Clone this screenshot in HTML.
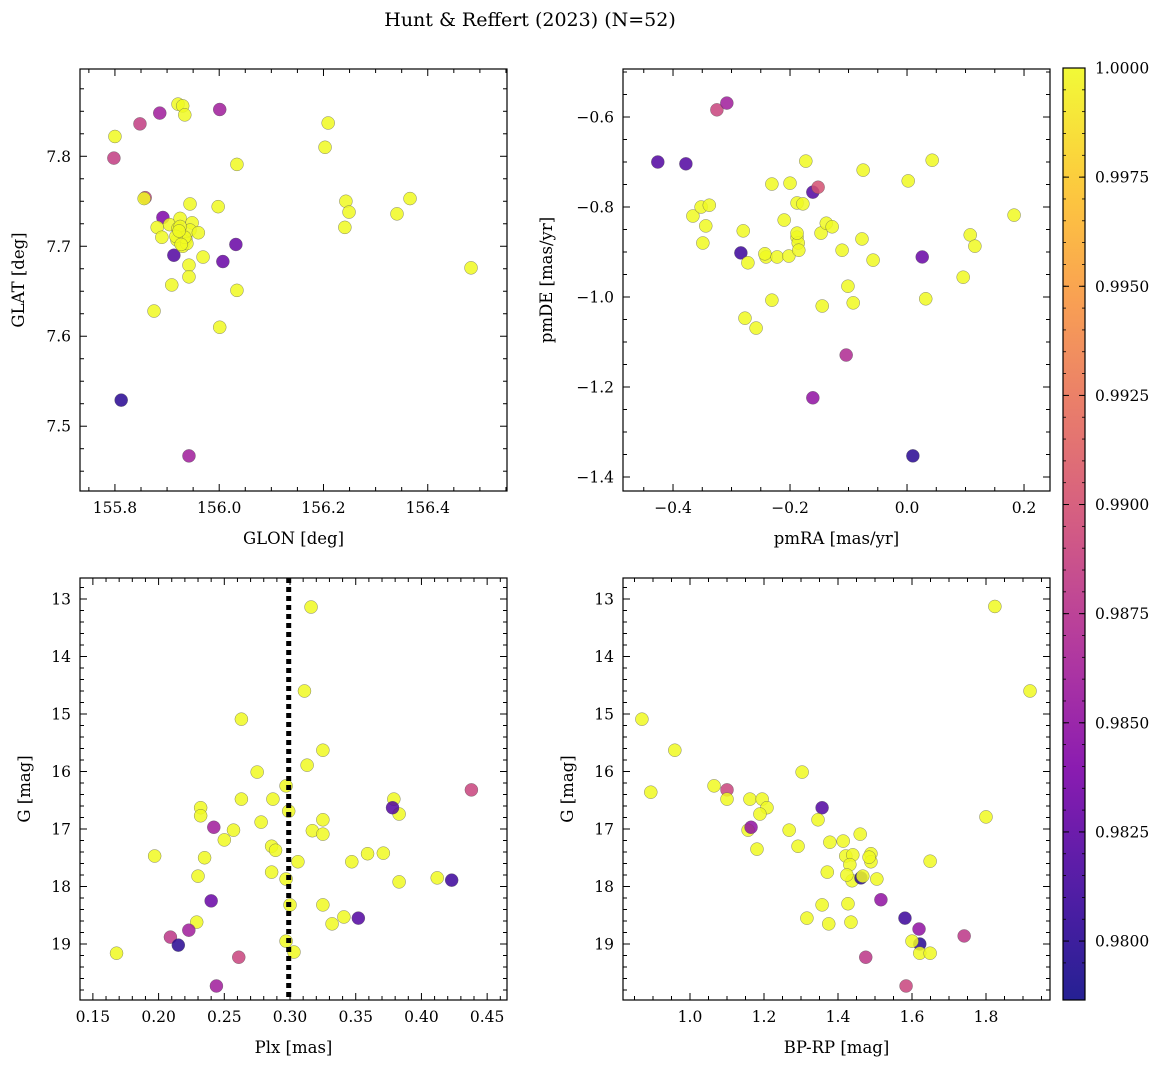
<!DOCTYPE html>
<html><head><meta charset="utf-8"><style>
html,body{margin:0;padding:0;background:#fff;}
svg{display:block;font-family:"DejaVu Serif","Liberation Serif",serif;}
</style></head><body>
<svg id="fig" width="1173" height="1068" viewBox="0 0 1173 1068" xmlns="http://www.w3.org/2000/svg">
<text x="530" y="26" text-anchor="middle" font-size="19">Hunt &amp; Reffert (2023) (N=52)</text>
</svg>
<script>
// Panel 1: GLON vs GLAT
const p1Glon=[155.800,155.798,155.848,155.886,155.921,155.930,155.934,156.001,155.858,155.856,155.892,155.881,155.890,155.905,155.913,155.909,155.875,155.944,155.925,155.921,155.929,155.919,155.936,155.930,155.948,155.944,155.938,155.942,155.942,155.925,155.934,155.917,155.927,155.923,155.969,155.998,156.007,156.034,156.032,156.034,156.001,156.203,156.209,156.243,156.249,156.241,156.341,156.366,156.483,155.812,155.942,155.960];
const p1Glat=[7.822,7.798,7.836,7.848,7.858,7.856,7.846,7.852,7.754,7.753,7.732,7.721,7.710,7.724,7.690,7.657,7.628,7.747,7.731,7.720,7.713,7.707,7.708,7.700,7.726,7.718,7.703,7.679,7.666,7.722,7.710,7.711,7.702,7.717,7.688,7.744,7.683,7.791,7.702,7.651,7.610,7.810,7.837,7.750,7.738,7.721,7.736,7.753,7.676,7.529,7.467,7.715];
const p1Prob=[1,0.9885,0.9885,0.986,1,1,1,0.986,0.989,1,0.984,1,1,1,0.982,1,1,1,1,1,1,1,1,1,1,1,1,1,1,1,1,1,1,1,1,1,0.983,1,0.983,1,1,1,1,1,1,1,1,1,1,0.980,0.986,1];
// Panel 2: pmRA vs pmDE
const p2Pmra=[-0.325,-0.308,-0.426,-0.378,-0.366,-0.352,-0.338,-0.344,-0.349,-0.284,-0.272,-0.280,-0.241,-0.243,-0.222,-0.231,-0.200,-0.202,-0.210,-0.188,-0.178,-0.188,-0.186,-0.185,-0.173,-0.161,-0.152,-0.147,-0.138,-0.128,-0.111,-0.101,-0.092,-0.145,-0.075,-0.077,-0.058,-0.231,-0.277,-0.258,-0.104,-0.161,0.010,0.002,0.043,0.026,0.032,0.096,0.108,0.116,0.183,-0.188];
const p2Pmde=[-0.584,-0.569,-0.700,-0.704,-0.820,-0.800,-0.796,-0.842,-0.880,-0.902,-0.924,-0.853,-0.911,-0.904,-0.911,-0.749,-0.747,-0.909,-0.829,-0.791,-0.793,-0.867,-0.880,-0.896,-0.698,-0.767,-0.756,-0.858,-0.836,-0.844,-0.896,-0.976,-1.013,-1.020,-0.718,-0.871,-0.918,-1.007,-1.047,-1.069,-1.129,-1.224,-1.353,-0.742,-0.696,-0.911,-1.004,-0.956,-0.862,-0.887,-0.818,-0.858];
const p2Prob=[0.989,0.986,0.982,0.982,1,1,1,1,1,0.981,1,1,1,1,1,1,1,1,1,1,1,1,1,1,1,0.982,0.990,1,1,1,1,1,1,1,1,1,1,1,1,1,0.987,0.985,0.980,1,1,0.983,1,1,1,1,1,1];
// Panel 3: Plx vs G
const p3Plx=[0.316,0.311,0.263,0.325,0.275,0.313,0.263,0.287,0.297,0.299,0.232,0.232,0.278,0.257,0.250,0.235,0.197,0.286,0.289,0.286,0.230,0.297,0.300,0.306,0.317,0.325,0.325,0.347,0.359,0.371,0.379,0.383,0.383,0.412,0.378,0.423,0.438,0.240,0.242,0.229,0.223,0.209,0.215,0.168,0.261,0.244,0.297,0.303,0.325,0.332,0.341,0.352];
const p3G=[13.14,14.60,15.09,15.63,16.01,15.89,16.48,16.48,16.25,16.69,16.63,16.77,16.88,17.02,17.19,17.50,17.47,17.30,17.37,17.75,17.82,17.87,18.32,17.57,17.03,16.84,17.09,17.57,17.43,17.42,16.48,16.74,17.92,17.85,16.63,17.89,16.32,18.25,16.97,18.62,18.76,18.88,19.02,19.16,19.23,19.73,18.95,19.14,18.32,18.65,18.53,18.55];
const p3Prob=[1,1,1,1,1,1,1,1,1,1,1,1,1,1,1,1,1,1,1,1,1,1,1,1,1,1,1,1,1,1,1,1,1,1,0.982,0.981,0.989,0.983,0.986,1,0.986,0.988,0.980,1,0.989,0.986,1,1,1,1,1,0.982];
const p3Cut=[0.299];
// Panel 4: BP-RP vs G
const p4Col=[1.824,1.919,0.870,0.959,0.894,1.065,1.100,1.100,1.162,1.195,1.208,1.189,1.157,1.165,1.181,1.303,1.357,1.346,1.268,1.292,1.414,1.460,1.421,1.440,1.489,1.489,1.484,1.371,1.438,1.462,1.505,1.467,1.800,1.649,1.316,1.357,1.427,1.435,1.375,1.516,1.581,1.619,1.621,1.600,1.621,1.649,1.741,1.475,1.584,1.432,1.378,1.424];
const p4G=[13.13,14.60,15.09,15.63,16.36,16.25,16.32,16.48,16.48,16.48,16.63,16.74,17.02,16.97,17.35,16.01,16.63,16.84,17.02,17.30,17.21,17.09,17.47,17.45,17.43,17.57,17.49,17.75,17.90,17.85,17.87,17.82,16.79,17.56,18.55,18.32,18.30,18.62,18.65,18.23,18.55,18.74,19.00,18.95,19.16,19.16,18.86,19.23,19.73,17.62,17.23,17.80];
const p4Prob=[1,1,1,1,1,1,0.989,1,1,1,1,1,1,0.985,1,1,0.982,1,1,1,1,1,1,1,1,1,1,1,1,0.980,1,1,1,1,1,1,1,1,1,0.985,0.981,0.985,0.980,1,1,1,0.988,0.988,0.989,1,1,1];
const cbTicks=["0.9800","0.9825","0.9850","0.9875","0.9900","0.9925","0.9950","0.9975","1.0000"];

const NS="http://www.w3.org/2000/svg";
const svg=document.getElementById('fig');
const VMIN=0.97865,VMAX=1.0;
const stops=[[0,[13,8,135]],[0.125,[65,4,157]],[0.25,[126,3,168]],[0.375,[170,35,149]],[0.5,[204,71,120]],[0.625,[229,107,93]],[0.75,[248,149,64]],[0.875,[253,197,39]],[1,[240,249,33]]];
function plasma(t){t=Math.max(0,Math.min(1,t));for(let i=1;i<stops.length;i++){if(t<=stops[i][0]){const a=stops[i-1],b=stops[i];const f=(t-a[0])/(b[0]-a[0]);const c=a[1].map((v,k)=>Math.round(v+(b[1][k]-v)*f));return `rgb(${c[0]},${c[1]},${c[2]})`;}}return 'rgb(240,249,33)';}
function el(tag,attrs,parent){const e=document.createElementNS(NS,tag);for(const k in attrs)e.setAttribute(k,attrs[k]);(parent||svg).appendChild(e);return e;}
function fmt(v,d){return (v<0?'\u2212':'')+Math.abs(v).toFixed(d);}

function panel(o){
  const g=el('g',{});
  
  
  const sx=v=>o.x0+(v-o.xmin)/(o.xmax-o.xmin)*(o.x1-o.x0);
  const sy=o.invert?(v=>o.y0+(v-o.ymin)/(o.ymax-o.ymin)*(o.y1-o.y0)):(v=>o.y1-(v-o.ymin)/(o.ymax-o.ymin)*(o.y1-o.y0));
  const ymn=Math.min(o.ymin,o.ymax),ymx=Math.max(o.ymin,o.ymax);
  const pts=el('g',{},g);
  
  
  o.xs.forEach((xv,i)=>{
    const c=el('circle',{cx:sx(xv),cy:sy(o.ys[i]),r:6.5,fill:plasma((o.cs[i]-VMIN)/(VMAX-VMIN)),'fill-opacity':0.85,stroke:'#555','stroke-width':0.5,'stroke-opacity':0.7},pts);
    
    
  });
  if(o.vline){o.vline.forEach(v=>{const l=el('line',{x1:sx(v),x2:sx(v),y1:o.y0,y2:o.y1,stroke:'#000','stroke-width':5,'stroke-dasharray':'5,4'},g);
    
    });}
  const fr=el('rect',{x:o.x0,y:o.y0,width:o.x1-o.x0,height:o.y1-o.y0,fill:'none',stroke:'#000','stroke-width':1.2},g);
  
  
  const eps=1e-9;
  for(let v=Math.ceil(o.xmin/o.xminor-eps)*o.xminor;v<=o.xmax+eps;v+=o.xminor){
    const px=sx(v);const isMaj=Math.abs(v/o.xmajor-Math.round(v/o.xmajor))<1e-6;const L=isMaj?7:4;
    el('line',{x1:px,x2:px,y1:o.y1,y2:o.y1-L,stroke:'#000','stroke-width':1},g);
    el('line',{x1:px,x2:px,y1:o.y0,y2:o.y0+L,stroke:'#000','stroke-width':1},g);
    if(isMaj){const t=el('text',{x:px,y:o.y1+22,'text-anchor':'middle','font-size':15.5},g);t.textContent=fmt(Math.round(v/o.xmajor)*o.xmajor,o.xd);
      
      }
  }
  for(let v=Math.ceil(ymn/o.yminor-eps)*o.yminor;v<=ymx+eps;v+=o.yminor){
    const py=sy(v);const isMaj=Math.abs(v/o.ymajor-Math.round(v/o.ymajor))<1e-6;const L=isMaj?7:4;
    el('line',{x1:o.x0,x2:o.x0+L,y1:py,y2:py,stroke:'#000','stroke-width':1},g);
    el('line',{x1:o.x1,x2:o.x1-L,y1:py,y2:py,stroke:'#000','stroke-width':1},g);
    if(isMaj){const t=el('text',{x:o.x0-9,y:py+5.5,'text-anchor':'end','font-size':15.5},g);t.textContent=fmt(Math.round(v/o.ymajor)*o.ymajor,o.yd);
      
      }
  }
  const xl=el('text',{x:(o.x0+o.x1)/2,y:o.y1+53,'text-anchor':'middle','font-size':16.5},g);xl.textContent=o.xlabel;
  
  
  const yx=o.ylx,yy=(o.y0+o.y1)/2;
  const yl=el('text',{x:yx,y:yy,'text-anchor':'middle','font-size':16.5,transform:`rotate(-90 ${yx} ${yy})`},g);yl.textContent=o.ylabel;
  
  
}

panel({name:'panel-glon-glat',x0:80,x1:507,y0:69,y1:491,xmin:155.733,xmax:156.552,ymin:7.428,ymax:7.897,xmajor:0.2,xminor:0.05,ymajor:0.1,yminor:0.025,xd:1,yd:1,xs:p1Glon,ys:p1Glat,cs:p1Prob,xlabel:'GLON [deg]',ylabel:'GLAT [deg]',ylx:24});
panel({name:'panel-pm',x0:623,x1:1050,y0:69,y1:491,xmin:-0.4855,xmax:0.2444,ymin:-1.4311,ymax:-0.4933,xmajor:0.2,xminor:0.05,ymajor:0.2,yminor:0.05,xd:1,yd:1,xs:p2Pmra,ys:p2Pmde,cs:p2Prob,xlabel:'pmRA [mas/yr]',ylabel:'pmDE [mas/yr]',ylx:552});
panel({name:'panel-plx-g',x0:80,x1:507,y0:578,y1:1000,xmin:0.1402,xmax:0.4651,ymin:12.635,ymax:19.974,invert:true,xmajor:0.05,xminor:0.01,ymajor:1,yminor:0.2,xd:2,yd:0,xs:p3Plx,ys:p3G,cs:p3Prob,vline:p3Cut,xlabel:'Plx [mas]',ylabel:'G [mag]',ylx:30});
panel({name:'panel-cmd',x0:623,x1:1050,y0:578,y1:1000,xmin:0.8189,xmax:1.973,ymin:12.635,ymax:19.974,invert:true,xmajor:0.2,xminor:0.05,ymajor:1,yminor:0.2,xd:1,yd:0,xs:p4Col,ys:p4G,cs:p4Prob,xlabel:'BP-RP [mag]',ylabel:'G [mag]',ylx:573});

(function(){
  const cx0=1063,cx1=1085,cy0=68,cy1=1000;
  const g=el('g',{});
  
  
  const defs=el('defs',{},g);
  const lg=el('linearGradient',{id:'plg',x1:0,y1:1,x2:0,y2:0},defs);
  for(let i=0;i<=20;i++){el('stop',{offset:i/20,'stop-color':plasma(i/20),'stop-opacity':0.9},lg);}
  el('rect',{x:cx0,y:cy0,width:cx1-cx0,height:cy1-cy0,fill:'url(#plg)',stroke:'#000','stroke-width':1.2},g);
  const sy=v=>cy1-(v-VMIN)/(VMAX-VMIN)*(cy1-cy0);
  cbTicks.forEach(s=>{const v=parseFloat(s);const py=sy(v);
    el('line',{x1:cx1,x2:cx1-6,y1:py,y2:py,stroke:'#000','stroke-width':1},g);
    el('line',{x1:cx0,x2:cx0+6,y1:py,y2:py,stroke:'#000','stroke-width':1},g);
    const t=el('text',{x:cx1+10,y:py+5.5,'font-size':15.5},g);t.textContent=s;
    
    });
  for(let v=0.9795;v<=1.00001;v+=0.0005){const py=sy(v);if(py<cy0||py>cy1)continue;
    el('line',{x1:cx1,x2:cx1-3,y1:py,y2:py,stroke:'#000','stroke-width':0.8},g);
    el('line',{x1:cx0,x2:cx0+3,y1:py,y2:py,stroke:'#000','stroke-width':0.8},g);}
})();
</script>
</body></html>
